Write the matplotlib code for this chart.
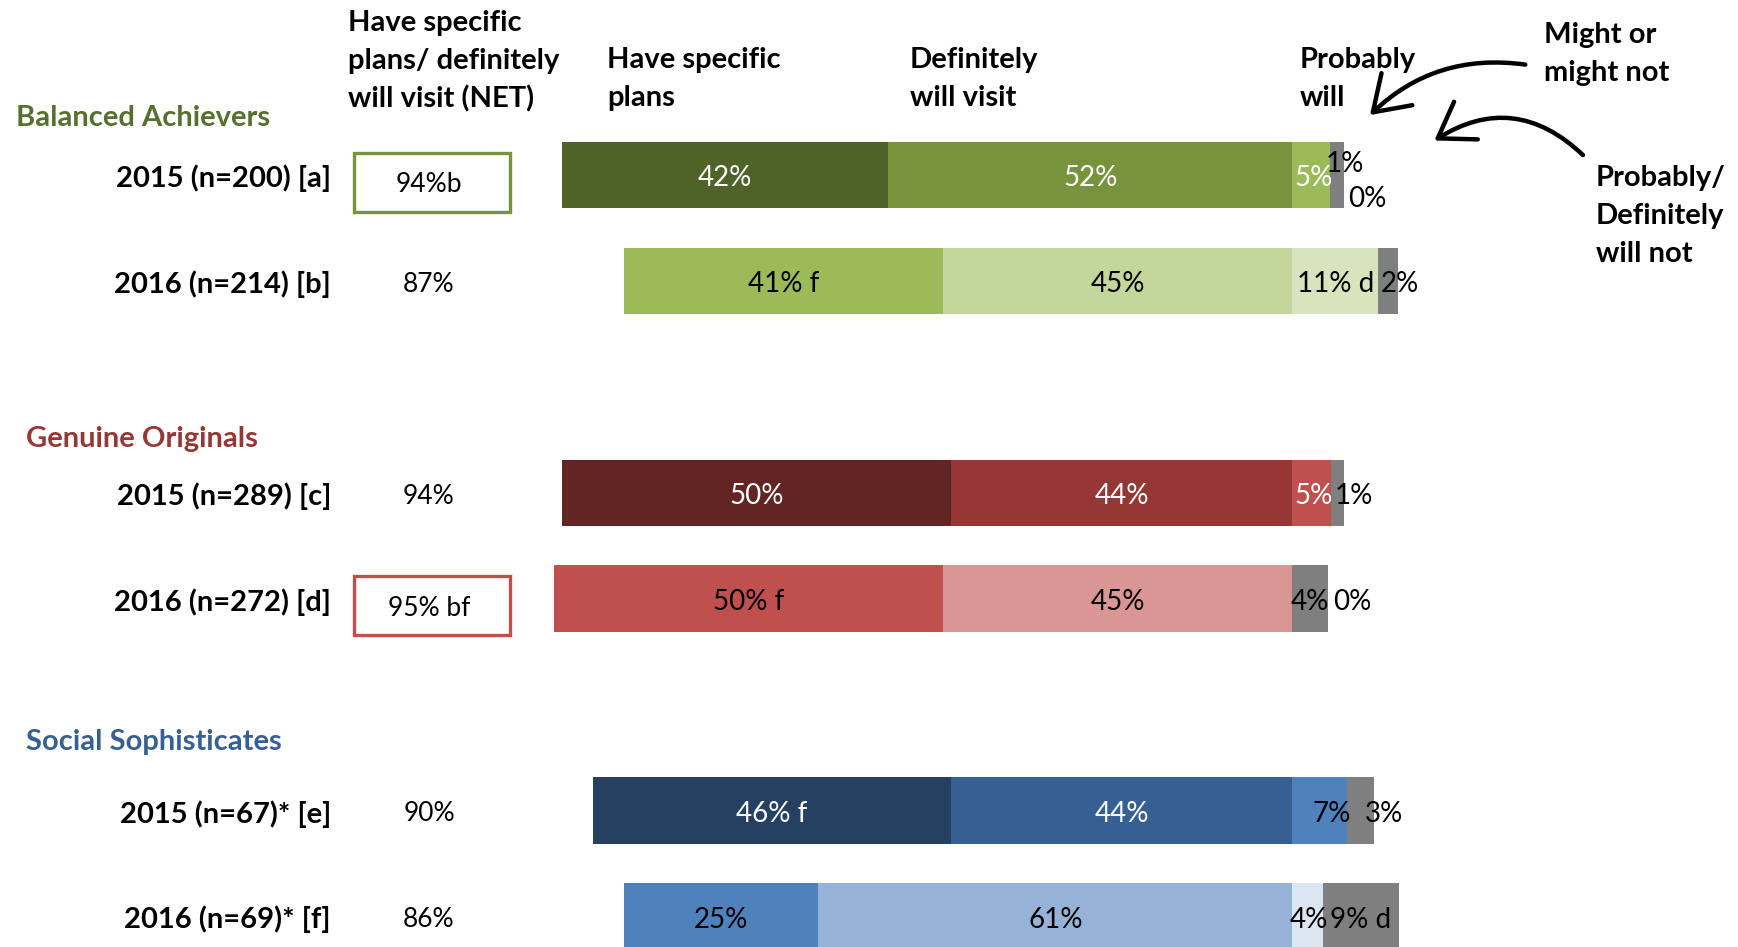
import matplotlib.pyplot as plt
from matplotlib.patches import Rectangle, FancyArrowPatch

plt.rcParams['font.family'] = ['Lato', 'DejaVu Sans']

# data
groups = ['Balanced Achievers', 'Genuine Originals', 'Social Sophisticates']
group_colors = ['#56702E', '#953735', '#376092']
row_labels = ['2015 (n=200) [a]', '2016 (n=214) [b]',
              '2015 (n=289) [c]', '2016 (n=272) [d]',
              '2015 (n=67)* [e]', '2016 (n=69)* [f]']
net_labels = ['94%b', '87%', '94%', '95% bf', '90%', '86%']
net_boxed = [True, False, False, True, False, False]

have_plans = [42, 41, 50, 50, 46, 25]
definitely = [52, 45, 44, 45, 44, 61]
probably = [4.9, 11, 5, 4.6, 7, 4]
might_not = [1.7, 2.6, 1.6, 0, 3.5, 9.7]

plans_txt = ['42%', '41% f', '50%', '50% f', '46% f', '25%']
def_txt = ['52%', '45%', '44%', '45%', '44%', '61%']
prob_txt = ['5%', '11% d', '5%', '4%', '7%', '4%']
might_txt = ['1%', '2%', '1%', '0%', '3%', '9% d']
not_txt = ['0%', '', '', '', '', '']

# styles
GRAY = '#7F7F7F'
seg_colors = [
    ['#4F6228', '#77933C', '#9BBB59', GRAY],
    ['#9BBB59', '#C3D69B', '#D7E4BD', GRAY],
    ['#632523', '#953735', '#C0504D', GRAY],
    ['#C0504D', '#D99694', GRAY, GRAY],
    ['#254061', '#376092', '#4F81BD', GRAY],
    ['#4F81BD', '#95B3D7', '#DCE6F2', GRAY],
]
txt_colors = [
    ['white', 'white', 'white'],
    ['black', 'black', 'black'],
    ['white', 'white', 'white'],
    ['black', 'black', 'black'],
    ['white', 'white', 'black'],
    ['black', 'black', 'black'],
]
box_colors = ['#77933C', None, None, '#C0504D', None, None]
prob_lbl_x = [2.7, 5.6, 2.7, 2.3, 5.0, 2.1]
might_lbl_x = [6.8, 13.8, 7.85, 7.7, 11.8, 8.8]
might_lbl_dy = [-0.135, 0, 0, 0, 0, 0]

slots = [0, 1, 3, 4, 6, 7]
W, H = 1738, 947
Y0, STEP = 175.1, 105.9      # pixel centre of first row, pixels per slot
X0, PPP = 1292.4, 7.77       # pixel of the definitely/probably split, pixels per percent
TY = 3.3                     # text sits a bit lower than va='center' puts it


def row_px(slot):
    return Y0 + STEP * slot


fig = plt.figure(figsize=(W / 100, H / 100), dpi=100)

# bar axes: x in percent, y in row slots
ax = fig.add_axes([0, 0, 1, 1])
ax.set_xlim(-X0 / PPP, (W - X0) / PPP)
ax.set_ylim((H - Y0) / STEP, -Y0 / STEP)
ax.axis('off')

bh = 66.5 / STEP
ty = TY / STEP
for i, s in enumerate(slots):
    left = -(have_plans[i] + definitely[i])
    widths = [have_plans[i], definitely[i], probably[i], might_not[i]]
    lefts = [left, -definitely[i], 0, probably[i]]
    ax.barh([s] * 4, widths, left=lefts, height=bh, color=seg_colors[i], linewidth=0)

    yt = s + ty
    ax.text(left + have_plans[i] / 2, yt, plans_txt[i], ha='center', va='center',
            fontsize=20, color=txt_colors[i][0])
    ax.text(-definitely[i] / 2, yt, def_txt[i], ha='center', va='center',
            fontsize=20, color=txt_colors[i][1])
    ax.text(prob_lbl_x[i], yt, prob_txt[i], ha='center', va='center',
            fontsize=20, color=txt_colors[i][2])
    ax.text(might_lbl_x[i], yt + might_lbl_dy[i], might_txt[i], ha='center', va='center',
            fontsize=20, color='black')
    if not_txt[i]:
        ax.text(9.7, yt + 0.19, not_txt[i], ha='center', va='center',
                fontsize=20, color='black')

# overlay axes in pixels for labels and annotations
lay = fig.add_axes([0, 0, 1, 1])
lay.set_xlim(0, W)
lay.set_ylim(H, 0)
lay.axis('off')

for i, s in enumerate(slots):
    y = row_px(s)
    lay.text(331, y + TY, row_labels[i], ha='right', va='center', fontsize=21,
             fontweight='bold', color='black')
    dy = 6 if net_boxed[i] else 0
    lay.text(429, y + dy + TY, net_labels[i], ha='center', va='center', fontsize=19,
             color='black')
    if net_boxed[i]:
        lay.add_patch(Rectangle((354, y + 7 - 29.5), 156, 59, fill=False,
                                edgecolor=box_colors[i], linewidth=2.4))

group_pos = [(15.5, 115), (25.5, 435.6), (25.5, 739)]
for g, c, (gx, gy) in zip(groups, group_colors, group_pos):
    lay.text(gx, gy + TY, g, ha='left', va='center', fontsize=21, fontweight='bold', color=c)

headers = [
    (348, [20, 57.6, 95.3], ['Have specific', 'plans/ definitely', 'will visit (NET)']),
    (607, [56.5, 95], ['Have specific', 'plans']),
    (910, [56.5, 95], ['Definitely', 'will visit']),
    (1300, [56.5, 95], ['Probably', 'will']),
    (1544, [32, 70], ['Might or', 'might not']),
    (1596, [175, 213, 250.5], ['Probably/', 'Definitely', 'will not']),
]
for hx, ys, lines in headers:
    for hy, line in zip(ys, lines):
        lay.text(hx, hy + TY, line, ha='left', va='center', fontsize=21,
                 fontweight='bold', color='black')

arrow_style = '->,head_length=0.75,head_width=0.5'
lay.add_patch(FancyArrowPatch((1528, 65), (1368, 117), connectionstyle='arc3,rad=0.25',
                              arrowstyle=arrow_style, mutation_scale=32,
                              linewidth=3.2, color='black', capstyle='round'))
lay.add_patch(FancyArrowPatch((1585, 157), (1432, 142), connectionstyle='arc3,rad=0.4',
                              arrowstyle=arrow_style, mutation_scale=32,
                              linewidth=3.2, color='black', capstyle='round'))

fig.savefig('out.png', dpi=100)
